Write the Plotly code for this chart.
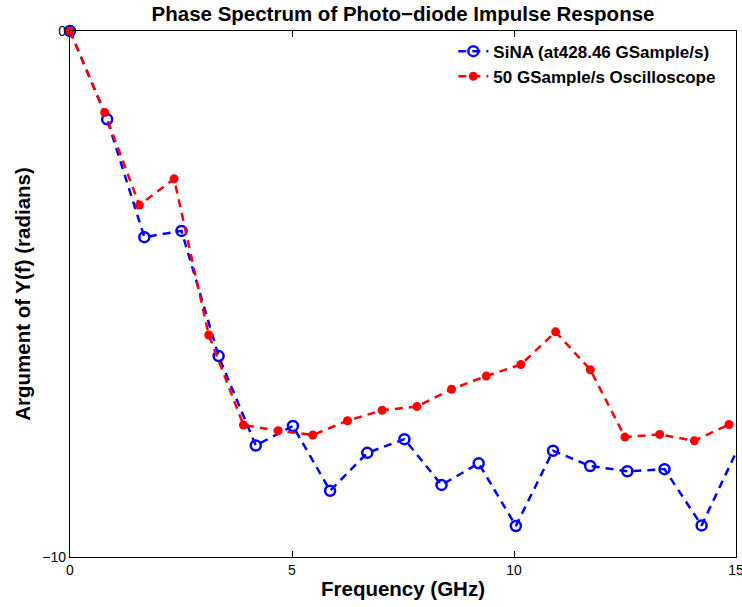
import plotly.graph_objects as go

# Frequencies (GHz)
sina_freq = [0.0, 0.837, 1.674, 2.511, 3.347, 4.184, 5.021, 5.858, 6.695, 7.532,
             8.368, 9.205, 10.042, 10.879, 11.716, 12.553, 13.390, 14.226, 15.063]
sina_phase = [0.0, -1.68, -3.92, -3.80, -6.18, -7.88, -7.51, -8.74, -8.02, -7.76,
              -8.63, -8.22, -9.41, -7.98, -8.27, -8.37, -8.33, -9.40, -7.90]

osc_freq = [0.0, 0.781, 1.563, 2.344, 3.125, 3.906, 4.688, 5.469, 6.250, 7.031,
            7.813, 8.594, 9.375, 10.156, 10.938, 11.719, 12.500, 13.281, 14.063, 14.844]
osc_phase = [0.0, -1.55, -3.31, -2.81, -5.78, -7.49, -7.60, -7.68, -7.41, -7.21,
             -7.14, -6.81, -6.56, -6.34, -5.72, -6.44, -7.72, -7.67, -7.79, -7.48]

x_ticks = [0, 5, 10, 15]
y_ticks = [-10, 0]

FONT = "Liberation Sans, Arial, Helvetica"

fig = go.Figure()
fig.add_trace(go.Scatter(
    x=sina_freq, y=sina_phase, mode="lines+markers",
    name="<b>SiNA (at428.46 GSample/s)</b>",
    line=dict(color="#0000ff", width=2.5, dash="8px,6px"),
    marker=dict(symbol="circle-open", size=10, color="#0000ff",
                line=dict(width=2.5, color="#0000ff"),
                opacity=[1] * (len(sina_freq) - 1) + [0]),
    cliponaxis=False,
))
fig.add_trace(go.Scatter(
    x=osc_freq, y=osc_phase, mode="lines+markers",
    name="<b>50 GSample/s Oscilloscope</b>",
    line=dict(color="#ff0000", width=2.5, dash="8px,6px"),
    marker=dict(symbol="circle", size=9, color="#ff0000"),
    cliponaxis=False,
))

axis_common = dict(
    showgrid=False, zeroline=False, showline=True, linecolor="black",
    linewidth=1.2, mirror="ticks", ticks="inside", ticklen=6, tickcolor="black",
    automargin=False, ticklabeloverflow="allow",
    tickfont=dict(family=FONT, size=14, color="black"),
)

fig.update_layout(
    width=742, height=607,
    margin=dict(l=70, r=6, t=31, b=50),
    paper_bgcolor="white", plot_bgcolor="white",
    title=dict(text="<b>Phase Spectrum of Photo\u2212diode Impulse Response</b>",
               xref="paper", x=0.5, xanchor="center", y=0.977, yanchor="middle",
               font=dict(family=FONT, size=20.5, color="black")),
    xaxis=dict(range=[0, 15], tickvals=x_ticks, ticktext=[str(v) for v in x_ticks],
               title=dict(text="<b>Frequency (GHz)</b>", standoff=4,
                          font=dict(family=FONT, size=20.5, color="black")),
               **axis_common),
    yaxis=dict(range=[-10, 0], tickvals=y_ticks, ticktext=["\u221210", "0"],
               title=dict(text="<b>Argument of Y(f) (radians)</b>", standoff=6,
                          font=dict(family=FONT, size=20.5, color="black")),
               **axis_common),
    legend=dict(x=0.978, y=0.995, xanchor="right", yanchor="top",
                bgcolor="rgba(255,255,255,0)", borderwidth=0,
                font=dict(family=FONT, size=17, color="black"),
                tracegroupgap=0),
    showlegend=True,
)

fig.write_html("out.html", config={"displayModeBar": False},
               post_script="document.body.style.margin='0';")
